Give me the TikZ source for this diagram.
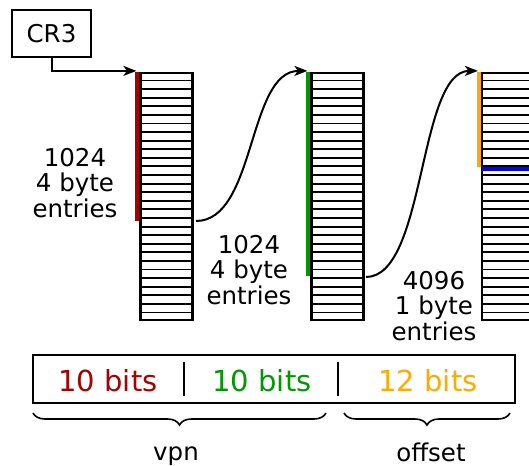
\documentclass[tikz,border=0pt]{standalone}
\usepackage{fontspec}
\setmainfont{DejaVu Sans}
\usetikzlibrary{calc,arrows.meta,decorations.pathreplacing}
\definecolor{lvlone}{RGB}{170,0,0}
\definecolor{lvltwo}{RGB}{0,153,0}
\definecolor{lvlthree}{RGB}{255,170,0}
\begin{document}
\begin{tikzpicture}[x=1bp, y=-1bp]
    \tikzset{
        lbl/.style={align=center, inner sep=0pt, font=\fontsize{24.5bp}{25.5bp}\selectfont},
        bits/.style={anchor=base, inner sep=0pt, font=\fontsize{29bp}{32bp}\selectfont},
        ptable/.style={draw, line width=2.2bp, minimum width=52bp, minimum height=247bp, inner sep=0pt},
        ptr/.style={line width=2bp, -{Stealth[length=13bp, width=10bp, inset=3.5bp]}},
        level bar/.style={line width=4bp}
    }
    \useasboundingbox (0,0) rectangle (529,466);

    \node[draw, line width=2bp, minimum width=79bp, minimum height=47bp, lbl] (cr3) at (51.5,33.5) {CR3};

    % page directory, page table and page
    \node[ptable] (pd) at (166.5,196.5) {};
    \node[ptable] (pt) at (337.5,196.5) {};
    \node[ptable] (pg) at (508,196.5) {};
    \fill[blue] (482,165) rectangle (534,171);
    \foreach \t in {pd,pt,pg}
        \foreach \i in {1,...,28}
            \draw[line width=1.9bp] ($(\t.north west)!\i/29!(\t.south west)$) -- ($(\t.north east)!\i/29!(\t.south east)$);

    \draw[level bar, lvlone] ([xshift=-2bp]pd.north west) -- ++(0,149);
    \draw[level bar, lvltwo] ([xshift=-2bp]pt.north west) -- ++(0,204);
    \draw[level bar, lvlthree] ([xshift=-2bp]pg.north west) -- ++(0,95);

    \coordinate (pd out) at (196,221);
    \coordinate (pt out) at (366,277);
    \draw[ptr] (cr3.south) |- ([xshift=-3bp, yshift=1bp]pd.north west);
    \draw[ptr] (pd out) .. controls +(60,0) and +(-60,0) .. ([xshift=-3bp, yshift=1bp]pt.north west);
    \draw[ptr] (pt out) .. controls +(60,0) and +(-60,0) .. ([xshift=-3bp, yshift=1bp]pg.north west);

    \node[lbl] (n1) at (75,183) {1024\\4 byte\\entries};
    \node[lbl] (n2) at (249,270) {1024\\4 byte\\entries};
    \node[lbl] (n3) at (434,306) {4096\\1 byte\\entries};

    % linear address
    \node[draw, line width=2bp, minimum width=482bp, minimum height=48bp, inner sep=0pt] (addr) at (274,379) {};
    \draw[line width=2bp] (184,362) -- (184,396);
    \draw[line width=2bp] (338,362) -- (338,396);
    \node[bits, text=lvlone] (b1) at (108,391) {10 bits};
    \node[bits, text=lvltwo] (b2) at (262,391) {10 bits};
    \node[bits, text=lvlthree] (b3) at (428,391) {12 bits};

    \draw[line width=1.6bp, decorate, decoration={brace, mirror, amplitude=12bp}] (33,413) -- (326,413);
    \draw[line width=1.6bp, decorate, decoration={brace, mirror, amplitude=12bp}] (344,413) -- (510,413);
    \node[lbl, anchor=base] (vpn) at (176,460) {vpn};
    \node[lbl, anchor=base] (off) at (431,461) {offset};
\end{tikzpicture}
\end{document}
